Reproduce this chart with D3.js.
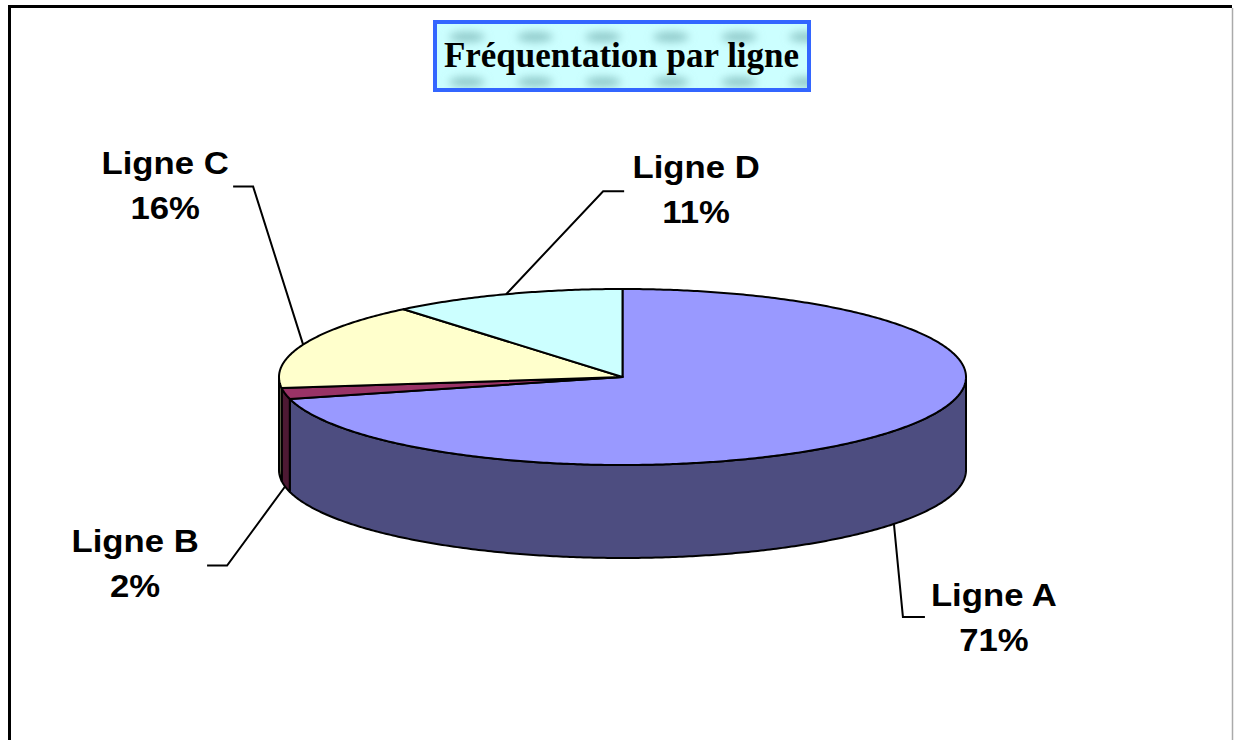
<!DOCTYPE html>
<html>
<head>
<meta charset="utf-8">
<script src="https://cdn.jsdelivr.net/npm/d3@7"></script>
<style>
  html, body { margin: 0; padding: 0; background: #fff; }
  #container { width: 1234px; height: 740px; }
</style>
</head>
<body>
<div id="container"></div>
<script>
// 数据
const categories = ["Ligne A", "Ligne B", "Ligne C", "Ligne D"];
const shares = [71, 2, 16, 11];
const topColors = ["#9999FF", "#993366", "#FFFFCC", "#CCFFFF"];
const sideColors = ["#4D4D80", "#4D1933", "#80805F", "#668080"];
const chartTitle = "Fréquentation par ligne";

// 标注相对于引线起点的偏移：拐点 (ex, ey)、水平段终点 hx、文字中心 (tx, ty)
const labelLayout = [
  { ex: 9, ey: 93, hx: 31, tx: 100, ty: 82 },
  { ex: -58, ey: 79, hx: -78, tx: -150, ty: 66 },
  { ex: -50, ey: -158, hx: -70, tx: -138, ty: -171 },
  { ex: 97, ey: -103, hx: 118, tx: 190, ty: -116 }
];

const container = document.getElementById("container");
const width = container.clientWidth;
const height = container.clientHeight;

const svg = d3.select("#container")
  .append("svg")
  .attr("width", width)
  .attr("height", height)
  .attr("viewBox", [0, 0, width, height]);

const defs = svg.append("defs");

// 标题背景纹理
const blur = defs.append("filter").attr("id", "soft")
  .attr("x", "-50%").attr("y", "-100%").attr("width", "200%").attr("height", "300%");
blur.append("feGaussianBlur").attr("stdDeviation", 4);

const pattern = defs.append("pattern")
  .attr("id", "tex")
  .attr("patternUnits", "userSpaceOnUse")
  .attr("x", 433).attr("y", 20)
  .attr("width", 68).attr("height", 72);
pattern.append("rect").attr("width", 68).attr("height", 72).attr("fill", "#CCFFFF");
pattern.selectAll("ellipse")
  .data([17, 62])
  .join("ellipse")
  .attr("cx", 34).attr("cy", d => d)
  .attr("rx", 18).attr("ry", 5)
  .attr("fill", "#7FBABA")
  .attr("opacity", 0.8)
  .attr("filter", "url(#soft)");

// 外框
svg.append("path")
  .attr("d", "M9.5,740 V6.5 H1232")
  .attr("fill", "none")
  .attr("stroke", "#000")
  .attr("stroke-width", 3);
svg.append("line")
  .attr("x1", 1232.5).attr("x2", 1232.5)
  .attr("y1", 8).attr("y2", 740)
  .attr("stroke", "#aaa")
  .attr("stroke-width", 1.5);

// 标题
svg.append("rect")
  .attr("x", 435).attr("y", 22)
  .attr("width", 374).attr("height", 68)
  .attr("fill", "url(#tex)")
  .attr("stroke", "#3366FF")
  .attr("stroke-width", 4);
svg.append("text")
  .attr("x", 621.5).attr("y", 67)
  .attr("text-anchor", "middle")
  .attr("font-family", "'Liberation Serif', 'Times New Roman', serif")
  .attr("font-weight", "bold")
  .attr("font-size", 35)
  .attr("fill", "#000")
  .text(chartTitle);

// 3D 饼图的几何参数
const cx = 622.5, cy = 377, rx = 343.5, ry = 88, depth = 93;

const data = categories.map((c, i) => ({ name: c, value: shares[i], i }));
const pie = d3.pie().sort(null).value(d => d.value);
const arcs = pie(data);

const color = d3.scaleOrdinal().domain(categories).range(topColors);
const sideColor = d3.scaleOrdinal().domain(categories).range(sideColors);

const px = d3.scaleLinear().domain([-1, 1]).range([cx - rx, cx + rx]);
const py = d3.scaleLinear().domain([-1, 1]).range([cy - ry, cy + ry]);

// 椭圆上角度 a 处的点（a 从 12 点方向顺时针）
function pt(a, dy = 0) {
  return [px(Math.sin(a)), py(-Math.cos(a)) + dy];
}

function sample(a0, a1, dy = 0) {
  const n = Math.max(2, Math.ceil(Math.abs(a1 - a0) / 0.01));
  return d3.range(n + 1).map(k => pt(a0 + (a1 - a0) * k / n, dy));
}

const line = d3.line();

// 侧面
svg.append("g")
  .attr("stroke", "#000")
  .attr("stroke-width", 2)
  .attr("stroke-linejoin", "round")
  .selectAll("path")
  .data(arcs.filter(d => Math.max(d.startAngle, Math.PI / 2) < Math.min(d.endAngle, 3 * Math.PI / 2)))
  .join("path")
  .attr("fill", d => sideColor(d.data.name))
  .attr("d", d => {
    const lo = Math.max(d.startAngle, Math.PI / 2);
    const hi = Math.min(d.endAngle, 3 * Math.PI / 2);
    return line(sample(lo, hi).concat(sample(hi, lo, depth))) + "Z";
  });

// 顶面
svg.append("g")
  .attr("stroke", "#000")
  .attr("stroke-width", 2)
  .attr("stroke-linejoin", "round")
  .selectAll("path")
  .data(arcs)
  .join("path")
  .attr("fill", d => color(d.data.name))
  .attr("d", d => line([[cx, cy]].concat(sample(d.startAngle, d.endAngle))) + "Z");

// 引线与标注
const labels = svg.append("g");
arcs.forEach((d, i) => {
  const mid = (d.startAngle + d.endAngle) / 2;
  const front = Math.cos(mid) < 0;
  const [ax, ay] = pt(mid, front ? depth : 0);
  const L = labelLayout[i];

  labels.append("path")
    .attr("d", line([[ax, ay], [ax + L.ex, ay + L.ey], [ax + L.hx, ay + L.ey]]))
    .attr("fill", "none")
    .attr("stroke", "#000")
    .attr("stroke-width", 2);

  const t = labels.append("g")
    .attr("transform", `translate(${ax + L.tx},${ay + L.ty})`)
    .attr("font-family", "'Liberation Sans', Arial, sans-serif")
    .attr("font-weight", "bold")
    .attr("font-size", 31)
    .attr("text-anchor", "middle")
    .attr("fill", "#000");
  [d.data.name, `${d.data.value}%`].forEach((s, k) => {
    t.append("text")
      .attr("transform", `translate(0,${k * 45}) scale(1.12,1)`)
      .text(s);
  });
});
</script>
</body>
</html>
